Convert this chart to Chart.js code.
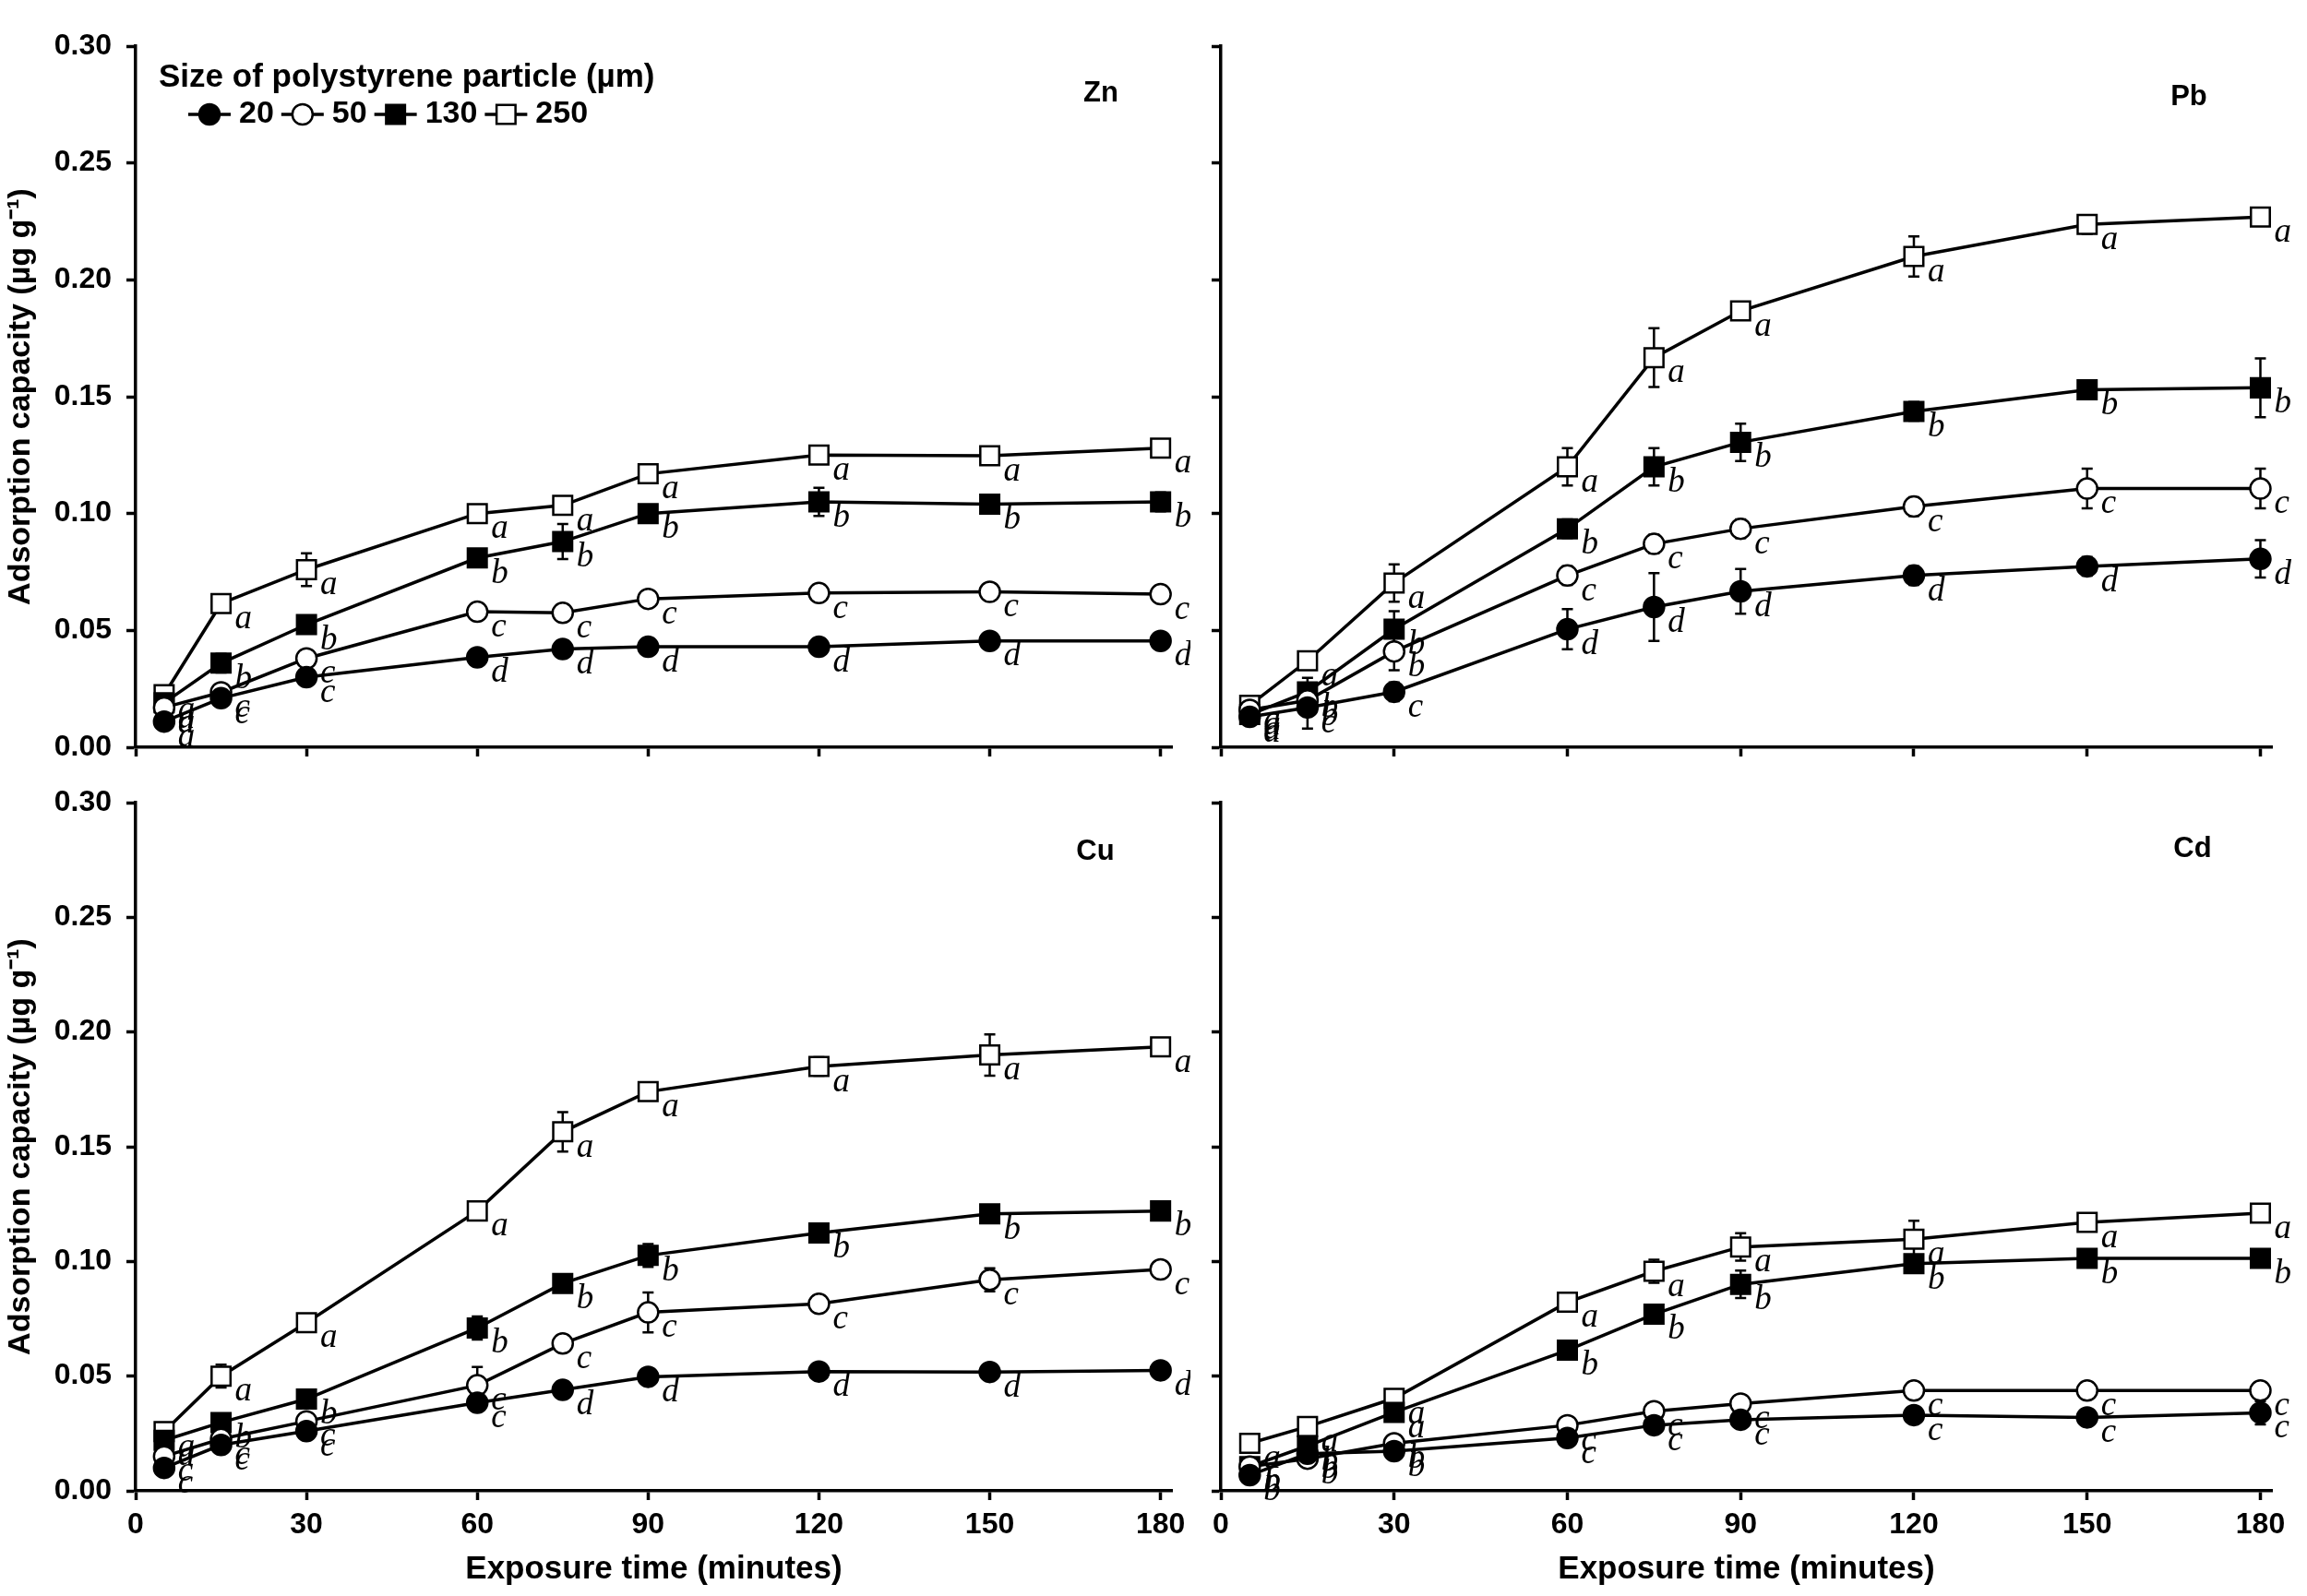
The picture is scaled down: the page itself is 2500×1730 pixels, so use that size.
<!DOCTYPE html>
<html>
<head>
<meta charset="utf-8">
<script src="https://cdn.jsdelivr.net/npm/chart.js@4.4.1/dist/chart.umd.min.js"></script>
<style>
    html, body { margin: 0; padding: 0; background: #fff; }
    body { width: 2500px; height: 1730px; position: relative; overflow: hidden; }
    canvas { position: absolute; }
</style>
</head>
<body>
<canvas id="chartZn" width="1290" height="830" style="left:0;top:0"></canvas>
<canvas id="chartPb" width="1210" height="830" style="left:1290px;top:0"></canvas>
<canvas id="chartCu" width="1290" height="900" style="left:0;top:830px"></canvas>
<canvas id="chartCd" width="1210" height="900" style="left:1290px;top:830px"></canvas>
<script>
// exposure time (minutes) and particle sizes (µm)
const times = [5, 15, 30, 60, 75, 90, 120, 150, 180];
const sizes = ['20', '50', '130', '250'];
const legendTitle = 'Size of polystyrene particle (µm)';
const xTitle = 'Exposure time (minutes)';
const yTitle = 'Adsorption capacity (µg g⁻¹)';

// rows follow sizes: 20, 50, 130, 250
const znMean = [
    [0.011, 0.021, 0.030, 0.0385, 0.042, 0.043, 0.043, 0.0455, 0.0455],
    [0.017, 0.0235, 0.038, 0.058, 0.0575, 0.0635, 0.066, 0.0665, 0.0655],
    [0.019, 0.036, 0.0525, 0.081, 0.088, 0.100, 0.105, 0.104, 0.105],
    [0.0225, 0.0615, 0.076, 0.100, 0.1035, 0.117, 0.125, 0.1247, 0.128]
];
const znErr = [
    [0.001, 0.002, 0.002, 0.002, 0.002, 0.002, 0.002, 0.002, 0.002],
    [0.001, 0.002, 0.002, 0.002, 0.002, 0.002, 0.002, 0.002, 0.002],
    [0.002, 0.004, 0.003, 0.003, 0.0075, 0.003, 0.006, 0.004, 0.004],
    [0.002, 0.003, 0.007, 0.002, 0.002, 0.003, 0.002, 0.002, 0.002]
];
const znSig = [
    ['a', 'c', 'c', 'd', 'd', 'd', 'd', 'd', 'd'],
    ['a', 'c', 'c', 'c', 'c', 'c', 'c', 'c', 'c'],
    ['a', 'b', 'b', 'b', 'b', 'b', 'b', 'b', 'b'],
    ['a', 'a', 'a', 'a', 'a', 'a', 'a', 'a', 'a']
];

const pbMean = [
    [0.013, 0.017, 0.0237, 0.0505, 0.060, 0.0667, 0.0735, 0.0774, 0.0806],
    [0.016, 0.020, 0.041, 0.0735, 0.087, 0.0935, 0.103, 0.1107, 0.1107],
    [0.014, 0.0237, 0.0505, 0.0935, 0.120, 0.1305, 0.1437, 0.153, 0.1538],
    [0.018, 0.037, 0.0703, 0.120, 0.1667, 0.1867, 0.210, 0.2237, 0.2269]
];
const pbErr = [
    [0.002, 0.009, 0.004, 0.0086, 0.0145, 0.0096, 0.004, 0.004, 0.008],
    [0.002, 0.004, 0.008, 0.004, 0.004, 0.004, 0.004, 0.0085, 0.0085],
    [0.003, 0.006, 0.0077, 0.004, 0.008, 0.008, 0.004, 0.004, 0.0126],
    [0.003, 0.003, 0.008, 0.008, 0.0126, 0.003, 0.0086, 0.004, 0.003]
];
const pbSig = [
    ['a', 'c', 'c', 'd', 'd', 'd', 'd', 'd', 'd'],
    ['a', 'b', 'b', 'c', 'c', 'c', 'c', 'c', 'c'],
    ['a', 'b', 'b', 'b', 'b', 'b', 'b', 'b', 'b'],
    ['a', 'a', 'a', 'a', 'a', 'a', 'a', 'a', 'a']
];

const cuMean = [
    [0.010, 0.020, 0.026, 0.0384, 0.044, 0.0497, 0.052, 0.0518, 0.0525],
    [0.015, 0.0226, 0.0303, 0.046, 0.0642, 0.0778, 0.0815, 0.092, 0.0965],
    [0.022, 0.0298, 0.040, 0.071, 0.0904, 0.1026, 0.1124, 0.1207, 0.122],
    [0.0258, 0.050, 0.0733, 0.122, 0.1565, 0.174, 0.185, 0.190, 0.1935]
];
const cuErr = [
    [0.002, 0.002, 0.002, 0.002, 0.002, 0.002, 0.002, 0.002, 0.002],
    [0.002, 0.002, 0.002, 0.008, 0.002, 0.0087, 0.003, 0.005, 0.002],
    [0.002, 0.002, 0.004, 0.005, 0.002, 0.005, 0.004, 0.002, 0.002],
    [0.002, 0.005, 0.002, 0.003, 0.0086, 0.003, 0.004, 0.009, 0.002]
];
const cuSig = [
    ['c', 'c', 'c', 'c', 'd', 'd', 'd', 'd', 'd'],
    ['c', 'c', 'c', 'c', 'c', 'c', 'c', 'c', 'c'],
    ['a', 'b', 'b', 'b', 'b', 'b', 'b', 'b', 'b'],
    ['a', 'a', 'a', 'a', 'a', 'a', 'a', 'a', 'a']
];

const cdMean = [
    [0.0068, 0.0162, 0.0173, 0.023, 0.0286, 0.031, 0.033, 0.032, 0.034],
    [0.0106, 0.014, 0.0207, 0.0286, 0.0347, 0.038, 0.0437, 0.0437, 0.0437],
    [0.0106, 0.0196, 0.0342, 0.0613, 0.077, 0.090, 0.099, 0.1013, 0.1013],
    [0.0207, 0.028, 0.0403, 0.0822, 0.0957, 0.1063, 0.1097, 0.117, 0.121]
];
const cdErr = [
    [0.002, 0.002, 0.002, 0.002, 0.002, 0.002, 0.002, 0.002, 0.005],
    [0.002, 0.002, 0.002, 0.002, 0.002, 0.002, 0.002, 0.002, 0.002],
    [0.002, 0.002, 0.002, 0.002, 0.002, 0.006, 0.003, 0.002, 0.002],
    [0.002, 0.002, 0.002, 0.003, 0.005, 0.006, 0.008, 0.002, 0.002]
];
const cdSig = [
    ['b', 'b', 'b', 'c', 'c', 'c', 'c', 'c', 'c'],
    ['b', 'b', 'b', 'c', 'c', 'c', 'c', 'c', 'c'],
    ['b', 'b', 'a', 'b', 'b', 'b', 'b', 'b', 'b'],
    ['a', 'a', 'a', 'a', 'a', 'a', 'a', 'a', 'a']
];

const SANS = '"Liberation Sans", Arial, sans-serif';
const SERIF = '"Liberation Serif", "Times New Roman", serif';

const markerStyle = ['circle', 'circle', 'rect', 'rect'];
const markerFill = ['#000', '#fff', '#000', '#fff'];
const markerRadius = [11, 11, 14.5, 14.5];

Chart.defaults.font.family = SANS;
Chart.defaults.color = '#000';

const errorBarPlugin = {
    id: 'errorBars',
    beforeDatasetsDraw(chart) {
        const ctx = chart.ctx;
        const yScale = chart.scales.y;
        ctx.save();
        ctx.strokeStyle = '#000';
        ctx.lineWidth = 2.5;
        chart.data.datasets.forEach(function (ds, i) {
            const meta = chart.getDatasetMeta(i);
            meta.data.forEach(function (pt, j) {
                const err = ds.errors[j];
                if (!err) return;
                const v = ds.data[j].y;
                const yTop = yScale.getPixelForValue(v + err);
                const yBot = yScale.getPixelForValue(v - err);
                ctx.beginPath();
                ctx.moveTo(pt.x, yTop);
                ctx.lineTo(pt.x, yBot);
                ctx.moveTo(pt.x - 6, yTop);
                ctx.lineTo(pt.x + 6, yTop);
                ctx.moveTo(pt.x - 6, yBot);
                ctx.lineTo(pt.x + 6, yBot);
                ctx.stroke();
            });
        });
        ctx.restore();
    }
};

const sigLetterPlugin = {
    id: 'sigLetters',
    afterDatasetsDraw(chart) {
        const ctx = chart.ctx;
        ctx.save();
        ctx.font = 'italic 37px ' + SERIF;
        ctx.fillStyle = '#000';
        ctx.textAlign = 'left';
        ctx.textBaseline = 'middle';
        chart.data.datasets.forEach(function (ds, i) {
            const meta = chart.getDatasetMeta(i);
            meta.data.forEach(function (pt, j) {
                ctx.fillText(ds.letters[j], pt.x + 15, pt.y + 17);
            });
        });
        ctx.restore();
    }
};

const panelLabelPlugin = {
    id: 'panelLabel',
    afterDraw(chart, args, opts) {
        if (!opts.text) return;
        const ctx = chart.ctx;
        ctx.save();
        ctx.font = 'bold 31px ' + SANS;
        ctx.fillStyle = '#000';
        ctx.textAlign = 'center';
        ctx.textBaseline = 'middle';
        ctx.fillText(opts.text, opts.x, opts.y);
        ctx.restore();
    }
};

const sizeLegendPlugin = {
    id: 'sizeLegend',
    afterDraw(chart, args, opts) {
        if (!opts.show) return;
        const ctx = chart.ctx;
        ctx.save();
        ctx.fillStyle = '#000';
        ctx.textBaseline = 'middle';
        ctx.textAlign = 'left';
        ctx.font = 'bold 35px ' + SANS;
        ctx.fillText(legendTitle, opts.x, opts.y);

        let x = opts.x + 32;
        const y = opts.y + 40;
        chart.data.datasets.forEach(function (ds, i) {
            ctx.strokeStyle = '#000';
            ctx.lineWidth = 3.5;
            ctx.beginPath();
            ctx.moveTo(x, y);
            ctx.lineTo(x + 46, y);
            ctx.stroke();
            ctx.fillStyle = markerFill[i];
            ctx.lineWidth = 2.5;
            ctx.beginPath();
            if (markerStyle[i] === 'circle') {
                ctx.arc(x + 23, y, markerRadius[i], 0, Math.PI * 2);
            } else {
                const s = markerRadius[i] * Math.SQRT1_2;
                ctx.rect(x + 23 - s, y - s, s * 2, s * 2);
            }
            ctx.fill();
            ctx.stroke();
            ctx.fillStyle = '#000';
            ctx.font = 'bold 34px ' + SANS;
            x += 55;
            ctx.fillText(sizes[i], x, y);
            x += ctx.measureText(sizes[i]).width + 8;
        });
        ctx.restore();
    }
};

function buildDatasets(mean, err, sig) {
    return sizes.map(function (size, i) {
        return {
            label: size,
            data: times.map(function (t, j) { return { x: t, y: mean[i][j] }; }),
            errors: err[i],
            letters: sig[i],
            borderColor: '#000',
            borderWidth: 3.5,
            pointStyle: markerStyle[i],
            pointRadius: markerRadius[i],
            pointBackgroundColor: markerFill[i],
            pointBorderColor: '#000',
            pointBorderWidth: 2.5,
            tension: 0,
            fill: false
        };
    });
}

function noScalePadding(scale) {
    scale.paddingTop = 0;
    scale.paddingBottom = 0;
    scale.paddingLeft = 0;
    scale.paddingRight = 0;
}

// panel.area*: chart-area edges inside the canvas, in canvas pixels
function createPanel(canvasId, mean, err, sig, panel) {
    const canvas = document.getElementById(canvasId);
    const left = panel.areaLeft;
    const topPad = panel.areaTop;
    const rightPad = canvas.width - panel.areaRight;
    const xHeight = canvas.height - panel.areaBottom;

    return new Chart(canvas, {
        type: 'line',
        data: { datasets: buildDatasets(mean, err, sig) },
        options: {
            responsive: false,
            animation: false,
            devicePixelRatio: 1,
            layout: {
                autoPadding: false,
                padding: { left: 0, top: topPad, right: rightPad, bottom: 0 }
            },
            plugins: {
                legend: { display: false },
                tooltip: { enabled: false },
                panelLabel: { text: panel.label, x: panel.labelX, y: panel.labelY },
                sizeLegend: { show: !!panel.legend, x: 172, y: 84 }
            },
            scales: {
                x: {
                    type: 'linear',
                    min: 0,
                    max: 182,
                    afterFit: function (scale) {
                        scale.height = xHeight;
                        noScalePadding(scale);
                    },
                    border: { display: true, color: '#000', width: 3.5 },
                    grid: {
                        drawOnChartArea: false,
                        drawTicks: true,
                        tickLength: 10,
                        tickWidth: 3.5,
                        tickColor: '#000'
                    },
                    ticks: {
                        display: !!panel.xLabels,
                        stepSize: 30,
                        includeBounds: false,
                        maxRotation: 0,
                        padding: 8,
                        font: { size: 32, weight: 'bold' }
                    },
                    title: {
                        display: !!panel.xLabels,
                        text: xTitle,
                        font: { size: 35, weight: 'bold' },
                        padding: { top: 0, bottom: 8 }
                    }
                },
                y: {
                    type: 'linear',
                    min: 0,
                    max: 0.3,
                    afterFit: function (scale) {
                        scale.width = left;
                        noScalePadding(scale);
                    },
                    border: { display: true, color: '#000', width: 3.5 },
                    grid: {
                        drawOnChartArea: false,
                        drawTicks: true,
                        tickLength: 10,
                        tickWidth: 3.5,
                        tickColor: '#000'
                    },
                    ticks: {
                        display: !!panel.yLabels,
                        stepSize: 0.05,
                        padding: 16,
                        font: { size: 32, weight: 'bold' },
                        callback: function (v) { return Number(v).toFixed(2); }
                    },
                    title: {
                        display: !!panel.yLabels,
                        text: yTitle,
                        font: { size: 34, weight: 'bold' },
                        padding: { top: 2, bottom: 0 }
                    }
                }
            }
        },
        plugins: [errorBarPlugin, sigLetterPlugin, panelLabelPlugin, sizeLegendPlugin]
    });
}

createPanel('chartZn', znMean, znErr, znSig, {
    areaLeft: 147, areaRight: 1270, areaTop: 50, areaBottom: 810,
    yLabels: true, xLabels: false, legend: true,
    label: 'Zn', labelX: 1193, labelY: 101
});
createPanel('chartPb', pbMean, pbErr, pbSig, {
    areaLeft: 33, areaRight: 1172, areaTop: 50, areaBottom: 810,
    yLabels: false, xLabels: false,
    label: 'Pb', labelX: 1082, labelY: 105
});
createPanel('chartCu', cuMean, cuErr, cuSig, {
    areaLeft: 147, areaRight: 1270, areaTop: 40, areaBottom: 786,
    yLabels: true, xLabels: true,
    label: 'Cu', labelX: 1187, labelY: 93
});
createPanel('chartCd', cdMean, cdErr, cdSig, {
    areaLeft: 33, areaRight: 1172, areaTop: 40, areaBottom: 786,
    yLabels: false, xLabels: true,
    label: 'Cd', labelX: 1086, labelY: 90
});
</script>
</body>
</html>
